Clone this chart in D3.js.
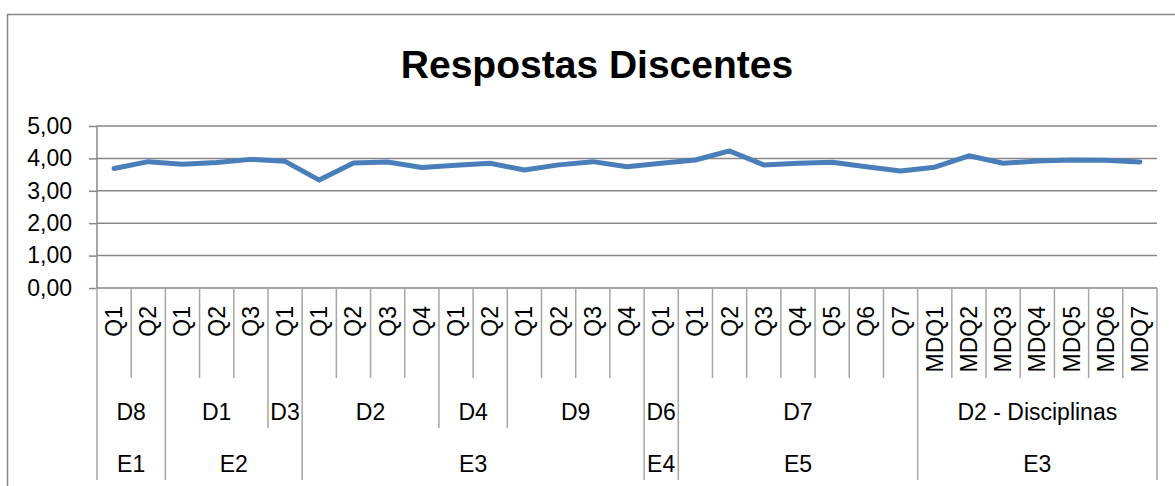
<!DOCTYPE html>
<html>
<head>
<meta charset="utf-8">
<script src="https://cdn.jsdelivr.net/npm/d3@7"></script>
<style>
  body { margin: 0; background: #fff; }
  svg { display: block; font-family: "Liberation Sans", Arial, sans-serif; }
</style>
</head>
<body>
<script>
// data
var questions = ["Q1","Q2","Q1","Q2","Q3","Q1","Q1","Q2","Q3","Q4","Q1","Q2",
                 "Q1","Q2","Q3","Q4","Q1","Q1","Q2","Q3","Q4","Q5","Q6","Q7",
                 "MDQ1","MDQ2","MDQ3","MDQ4","MDQ5","MDQ6","MDQ7"];
var values = [3.69,3.90,3.82,3.87,3.97,3.91,3.33,3.86,3.89,3.72,3.79,3.85,
              3.64,3.80,3.90,3.74,3.85,3.95,4.23,3.80,3.85,3.88,3.74,3.61,
              3.73,4.08,3.85,3.92,3.95,3.94,3.89];
var dimLabels = ["D8","D1","D3","D2","D4","D9","D6","D7","D2 - Disciplinas"];
var dimSizes  = [2,3,1,4,2,4,1,7,7];
var eixoLabels = ["E1","E2","E3","E4","E5","E3"];
var eixoSizes  = [2,4,10,1,7,7];
var yTicks = [0,1,2,3,4,5];
var title = "Respostas Discentes";

var chart = {};
chart.draw = function(){
  var W = 1175, H = 486;
  var plotL = 97, plotR = 1157, plotT = 126, plotB = 288;
  var lvl1 = 378, lvl2 = 428, lvl3 = 480;
  var gridColor = "#878787";
  var sepColor = "#a6a6a6";
  var lineColor = "#4a7ebb";
  var labelSize = "23px";
  var n = questions.length;

  var svg = d3.select("body").append("svg")
      .attr("width", W)
      .attr("height", H);

  // outer chart frame (only top and left visible)
  svg.append("path")
      .attr("d", "M7.5,486 L7.5,14.5 L1175,14.5")
      .attr("fill", "none")
      .attr("stroke", gridColor)
      .attr("stroke-width", 1.5);

  svg.append("text")
      .attr("x", 597)
      .attr("y", 78)
      .attr("text-anchor", "middle")
      .attr("font-size", "39px")
      .attr("font-weight", "bold")
      .text(title);

  var x = d3.scaleBand().domain(d3.range(n)).range([plotL, plotR]);
  var y = d3.scaleLinear().domain([0, 5]).range([plotB, plotT]);
  var edge = function(i){ return i < n ? x(i) : plotR; };

  // gridlines
  svg.append("g").selectAll("line")
      .data(yTicks)
      .enter().append("line")
      .attr("x1", plotL)
      .attr("x2", plotR)
      .attr("y1", function(d){ return y(d); })
      .attr("y2", function(d){ return y(d); })
      .attr("stroke", gridColor)
      .attr("stroke-width", 1.5);

  // y axis with labels
  var yAxis = d3.axisLeft(y)
      .tickValues(yTicks)
      .tickSize(8)
      .tickPadding(17)
      .tickFormat(function(d){ return d3.format(".2f")(d).replace(".", ","); });
  var gy = svg.append("g").attr("transform", "translate(" + plotL + ",0)").call(yAxis);
  gy.select(".domain").remove();
  gy.selectAll(".tick line").attr("stroke", gridColor).attr("stroke-width", 1.5);
  gy.selectAll(".tick text").attr("font-size", labelSize).attr("fill", "#000")
      .attr("font-family", "Liberation Sans, Arial, sans-serif");

  svg.append("line")
      .attr("x1", plotL).attr("x2", plotL)
      .attr("y1", plotT).attr("y2", plotB)
      .attr("stroke", gridColor)
      .attr("stroke-width", 1.5);

  // category separators: depth depends on group boundaries
  var dimEnds = Array.from(d3.cumsum(dimSizes));
  var eixoEnds = Array.from(d3.cumsum(eixoSizes));
  svg.append("g").selectAll("line")
      .data(d3.range(n + 1))
      .enter().append("line")
      .attr("x1", edge)
      .attr("x2", edge)
      .attr("y1", plotB)
      .attr("y2", function(i){
          if (i === 0 || eixoEnds.indexOf(i) >= 0) return lvl3;
          if (dimEnds.indexOf(i) >= 0) return lvl2;
          return lvl1;
      })
      .attr("stroke", sepColor)
      .attr("stroke-width", 1.5);

  // question labels, rotated
  svg.append("g").selectAll("text")
      .data(questions)
      .enter().append("text")
      .attr("transform", function(d, i){
          return "translate(" + (x(i) + x.bandwidth() / 2 + 8) + ",306) rotate(-90)";
      })
      .attr("text-anchor", "end")
      .attr("font-size", labelSize)
      .text(function(d){ return d; });

  // dimension labels
  var dimStarts = [0].concat(dimEnds.slice(0, -1));
  svg.append("g").selectAll("text")
      .data(dimLabels)
      .enter().append("text")
      .attr("x", function(d, i){ return (edge(dimStarts[i]) + edge(dimEnds[i])) / 2; })
      .attr("y", 420)
      .attr("text-anchor", "middle")
      .attr("font-size", labelSize)
      .text(function(d){ return d; });

  // eixo labels
  var eixoStarts = [0].concat(eixoEnds.slice(0, -1));
  svg.append("g").selectAll("text")
      .data(eixoLabels)
      .enter().append("text")
      .attr("x", function(d, i){ return (edge(eixoStarts[i]) + edge(eixoEnds[i])) / 2; })
      .attr("y", 472)
      .attr("text-anchor", "middle")
      .attr("font-size", labelSize)
      .text(function(d){ return d; });

  // the series
  var line = d3.line()
      .x(function(d, i){ return x(i) + x.bandwidth() / 2; })
      .y(function(d){ return y(d); });

  svg.append("path")
      .datum(values)
      .attr("d", line)
      .attr("fill", "none")
      .attr("stroke", lineColor)
      .attr("stroke-width", 5)
      .attr("stroke-linejoin", "round")
      .attr("stroke-linecap", "round");
};
chart.draw();
</script>
</body>
</html>
